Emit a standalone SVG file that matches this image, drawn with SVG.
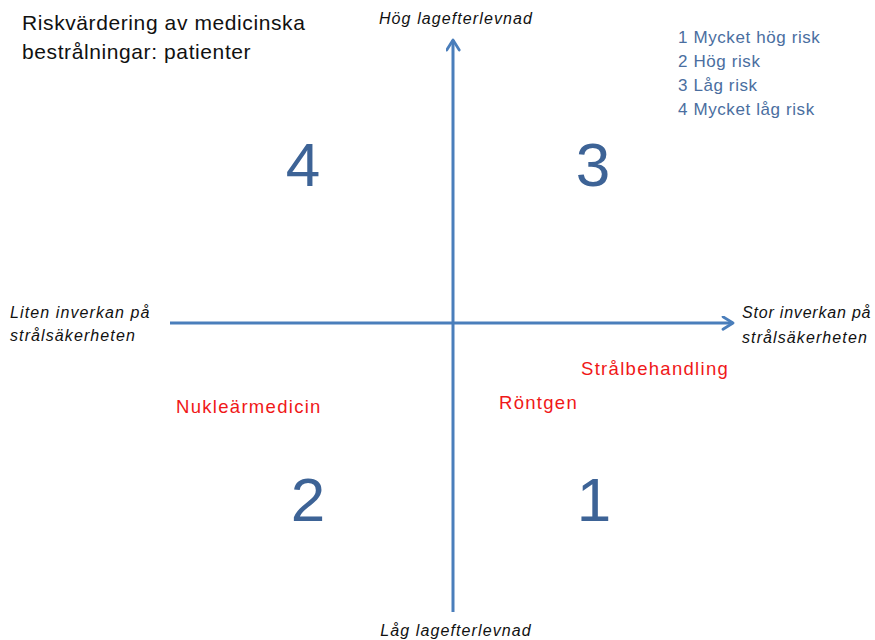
<svg xmlns="http://www.w3.org/2000/svg" width="875" height="640" viewBox="0 0 875 640">
<style>
.title{font-family:"Liberation Sans",Arial,sans-serif;font-size:21px;letter-spacing:0.6px;fill:#111}
.ax{font-family:"Liberation Sans",Arial,sans-serif;font-size:16px;font-style:italic;letter-spacing:1.1px;fill:#111}
.leg{font-family:"Liberation Sans",Arial,sans-serif;font-size:17px;letter-spacing:0.6px;fill:#4a6ea0}
.num{font-family:"Liberation Sans",Arial,sans-serif;font-size:62px;fill:#3d6396;text-anchor:middle}
.red{font-family:"Liberation Sans",Arial,sans-serif;font-size:18.5px;letter-spacing:1.3px;fill:#f01818}
.axis{stroke:#4a7ebb;stroke-width:3;fill:none}
</style>
<defs>
<marker id="arr" viewBox="0 0 12 12" refX="10" refY="6" markerWidth="5" markerHeight="5" markerUnits="strokeWidth" orient="auto">
<path d="M2,1 L10,6 L2,11" fill="none" stroke="#4a7ebb" stroke-width="2.2" stroke-linecap="round" stroke-linejoin="round"/>
</marker>
</defs>
<rect width="875" height="640" fill="#fff"/>
<g id="connectors">
<line class="axis" x1="453" y1="612" x2="453" y2="40" marker-end="url(#arr)"/>
<line class="axis" x1="170" y1="323" x2="733" y2="323" marker-end="url(#arr)"/>
</g>
<g id="title">
<text class="title" x="22" y="30">Riskvärdering av medicinska</text>
<text class="title" x="22" y="59">bestrålningar: patienter</text>
</g>
<g id="legend">
<text class="leg" x="678" y="43">1 Mycket hög risk</text>
<text class="leg" x="678" y="67">2 Hög risk</text>
<text class="leg" x="678" y="91">3 Låg risk</text>
<text class="leg" x="678" y="115">4 Mycket låg risk</text>
</g>
<g id="axis-labels">
<text class="ax" x="456" y="24" text-anchor="middle">Hög lagefterlevnad</text>
<text class="ax" x="456" y="636" text-anchor="middle">Låg lagefterlevnad</text>
<text class="ax" x="10" y="318">Liten inverkan på</text>
<text class="ax" x="10" y="341">strålsäkerheten</text>
<text class="ax" x="742" y="318" style="letter-spacing:0.8px">Stor inverkan på</text>
<text class="ax" x="742" y="343">strålsäkerheten</text>
</g>
<g id="q4"><text class="num" x="303" y="186">4</text></g>
<g id="q3"><text class="num" x="593" y="186">3</text></g>
<g id="q2"><text class="num" x="308" y="521">2</text></g>
<g id="q1"><text class="num" x="594" y="521">1</text></g>
<g id="stralbehandling"><text class="red" x="581" y="375">Strålbehandling</text></g>
<g id="rontgen"><text class="red" x="499" y="409">Röntgen</text></g>
<g id="nuklearmedicin"><text class="red" x="176" y="413">Nukleärmedicin</text></g>
</svg>
